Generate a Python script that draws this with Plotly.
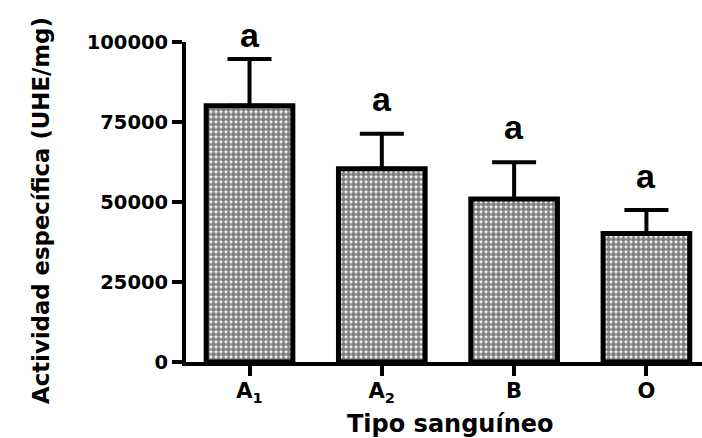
import plotly.graph_objects as go

# Blood-group categories and specific activity (mean + upper SEM)
categories = ["A1", "A2", "B", "O"]
category_labels = ["A<sub>1</sub>", "A<sub>2</sub>", "B", "O"]
activity_mean = [80100, 60400, 50900, 40150]
activity_err = [14600, 10900, 11500, 7350]
group_letters = ["a", "a", "a", "a"]
letter_shift = [3, 14, 14, 13]

y_ticks = [0, 25000, 50000, 75000, 100000]

AXIS_FONT = "DejaVu Sans"

fig = go.Figure()

fig.add_trace(go.Bar(
    x=categories,
    y=activity_mean,
    width=0.655,
    marker=dict(
        color="white",
        line=dict(color="black", width=5),
        pattern=dict(shape=".", fgcolor="black", bgcolor="white",
                     size=5, solidity=0.75, fillmode="overlay"),
    ),
    error_y=dict(type="data", array=activity_err, arrayminus=[0] * 4,
                 symmetric=False, color="black", thickness=4, width=22),
    cliponaxis=False,
    showlegend=False,
))

for cat, m, e, txt, sh in zip(categories, activity_mean, activity_err,
                              group_letters, letter_shift):
    fig.add_annotation(
        x=cat, y=m + e, text=f"<b>{txt}</b>", showarrow=False,
        yanchor="bottom", yshift=sh,
        font=dict(family="Liberation Sans", size=34, color="black"),
    )

# Axis titles
fig.add_annotation(
    xref="paper", yref="paper", x=-0.281, y=0.472,
    text="<b>Actividad específica (UHE/mg)</b>", textangle=-90,
    showarrow=False, xanchor="center", yanchor="middle",
    font=dict(family=AXIS_FONT, size=22.8, color="black"),
)
fig.add_annotation(
    xref="paper", yref="paper", x=0.512, y=-0.194,
    text="<b>Tipo sanguíneo</b>",
    showarrow=False, xanchor="center", yanchor="middle",
    font=dict(family=AXIS_FONT, size=24, color="black"),
)

fig.update_layout(
    width=702, height=438,
    margin=dict(l=186, r=0, t=42, b=76),
    paper_bgcolor="white", plot_bgcolor="white",
    bargap=0.3,
)

fig.update_xaxes(
    type="category",
    range=[-0.48, 3.42],
    tickvals=categories,
    ticktext=[f"<b>{t}</b>" for t in category_labels],
    showline=True, linecolor="black", linewidth=4,
    ticks="outside", ticklen=10, tickwidth=4, tickcolor="black",
    ticklabelstandoff=-3,
    tickfont=dict(family=AXIS_FONT, size=21, color="black"),
    showgrid=False, zeroline=False,
)

fig.update_yaxes(
    range=[0, 100000],
    tickvals=y_ticks, ticktext=[f"<b>{v}</b>" for v in y_ticks],
    showline=True, linecolor="black", linewidth=4,
    ticks="outside", ticklen=10, tickwidth=4, tickcolor="black",
    tickfont=dict(family=AXIS_FONT, size=19.5, color="black"),
    showgrid=False, zeroline=False,
)

fig.write_html("out.html")
